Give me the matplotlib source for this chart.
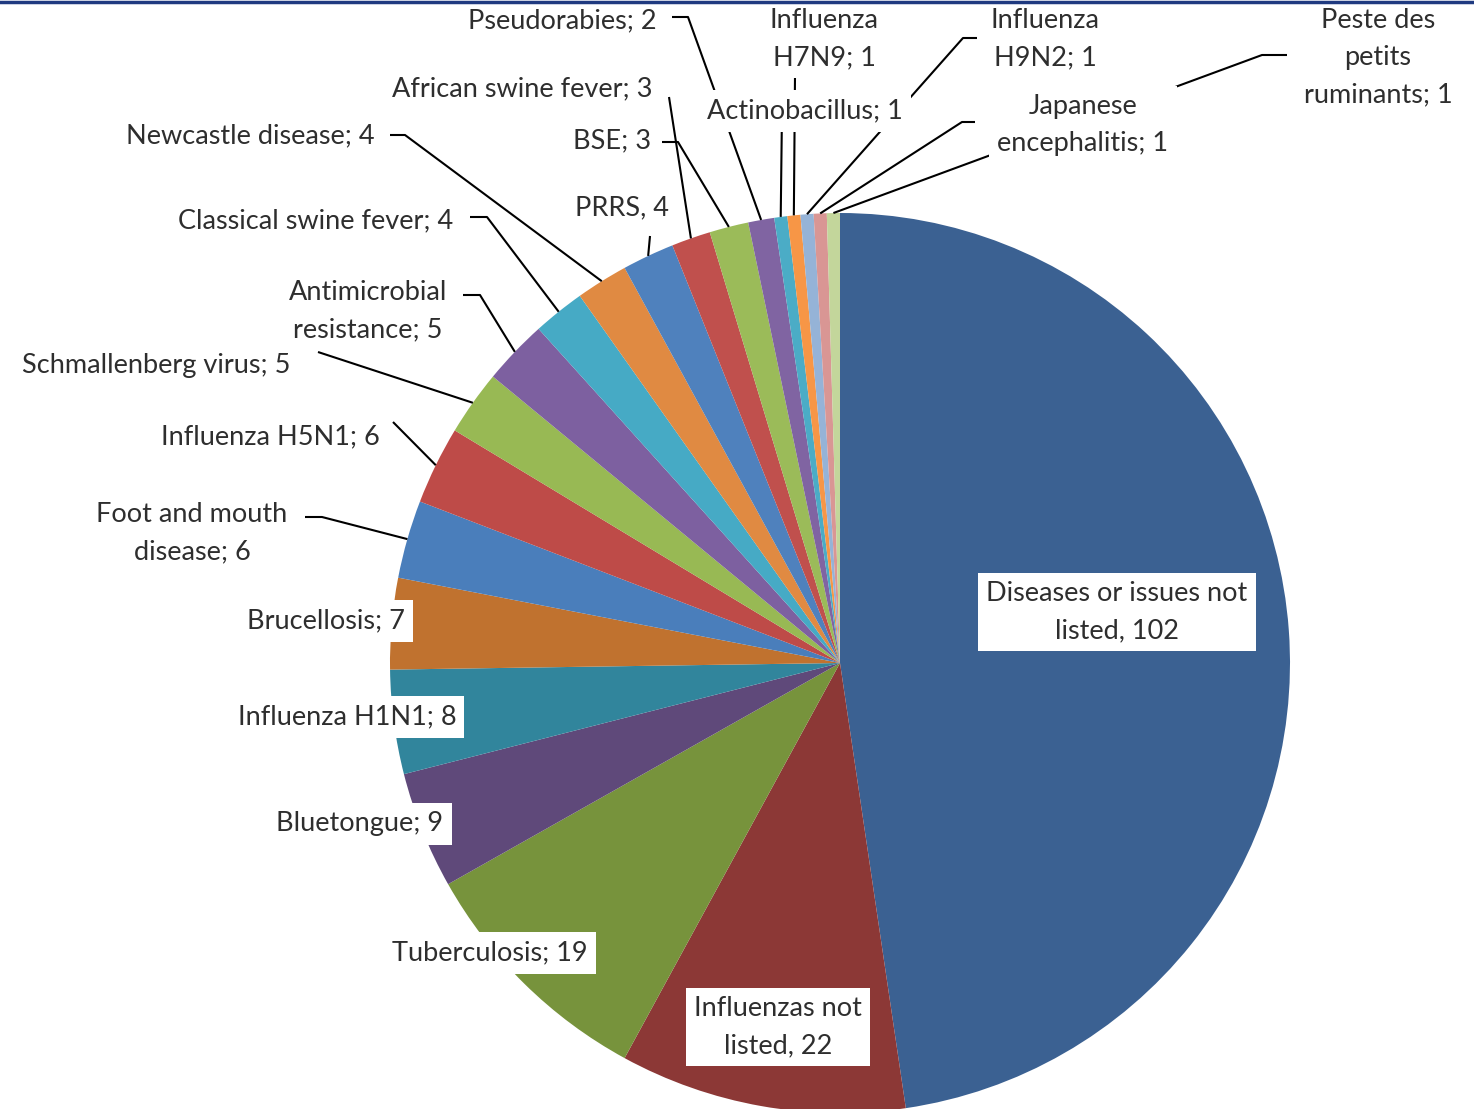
import matplotlib.pyplot as plt
from matplotlib.lines import Line2D
import numpy as np

plt.rcParams['font.family'] = ['Lato', 'DejaVu Sans']

# Reports per disease / issue, in clockwise order from 12 o'clock
names = ['Diseases or issues not\nlisted', 'Influenzas not\nlisted', 'Tuberculosis',
         'Bluetongue', 'Influenza H1N1', 'Brucellosis', 'Foot and mouth\ndisease',
         'Influenza H5N1', 'Schmallenberg virus', 'Antimicrobial\nresistance',
         'Classical swine fever', 'Newcastle disease', 'PRRS', 'African swine fever',
         'BSE', 'Pseudorabies', 'Actinobacillus', 'Influenza\nH7N9', 'Influenza\nH9N2',
         'Japanese\nencephalitis', 'Peste des\npetits\nruminants']
counts = [102, 22, 19, 9, 8, 7, 6, 6, 5, 5, 4, 4, 4, 3, 3, 2, 1, 1, 1, 1, 1]
comma_labels = ['Diseases or issues not\nlisted', 'Influenzas not\nlisted', 'PRRS']

colors = ['#3B6192', '#8C3836', '#77933C', '#5F497A', '#31859C', '#C0722F',
          '#4A7EBB', '#BE4B48', '#98B954', '#7D60A0', '#46AAC5', '#E08A42',
          '#4F81BD', '#C0504D', '#9BBB59', '#8064A2', '#4BACC6', '#F79646',
          '#95B3D7', '#D99694', '#C3D69B']

# label centres, pixel units (y down)
label_pos = [(1117, 612), (778, 1027), (490, 953), (360, 824), (347, 717),
             (326, 621), (192, 533), (270, 437), (156, 366), (368, 311),
             (316, 221), (250, 136), (622, 208), (522, 89), (612, 141),
             (562, 21), (805, 111), (824, 39), (1045, 39), (1083, 125),
             (1378, 58)]

# leader line start points (the wedge end is added from the pie)
leaders = {6: [(305, 517), (322, 517)], 7: [(393, 422)], 8: [(318, 352)],
           9: [(463, 295), (480, 295)], 10: [(470, 217), (487, 217)],
           11: [(390, 135), (405, 135)], 12: [(650, 236)], 13: [(669, 97)],
           14: [(662, 142), (678, 142)], 15: [(672, 17), (688, 17)],
           16: [(782, 111)], 17: [(795, 76)], 18: [(977, 38), (963, 38)],
           19: [(975, 122), (962, 122)], 20: [(1287, 55), (1262, 55)]}

W, H = 1474, 1109
cx, cy, radius = 840, 663, 450

fig = plt.figure(figsize=(W / 100, H / 100), dpi=100)
ax = fig.add_axes([0, 0, 1, 1])

# y axis runs downward, so a counter-clockwise pie in data space reads clockwise
wedges, _ = ax.pie(counts, colors=colors, startangle=-90, counterclock=True,
                   center=(cx, cy), radius=radius,
                   wedgeprops=dict(linewidth=0))
ax.set_xlim(0, W)
ax.set_ylim(H, 0)
ax.set_aspect('equal')
ax.axis('off')

for i, (name, n) in enumerate(zip(names, counts)):
    sep = ',' if name in comma_labels else ';'
    x, y = label_pos[i]
    ax.text(x, y, f'{name}{sep} {n}', fontsize=19.5, color='#2E2E2E',
            ha='center', va='center', linespacing=1.6, zorder=5,
            bbox=dict(boxstyle='square,pad=0.3', fc='white', ec='none'))
    if i in leaders:
        w = wedges[i]
        mid = np.deg2rad((w.theta1 + w.theta2) / 2)
        end = (cx + radius * np.cos(mid), cy + radius * np.sin(mid))
        pts = leaders[i] + [end]
        ax.plot([p[0] for p in pts], [p[1] for p in pts], color='black',
                lw=1.5, zorder=3, solid_capstyle='butt')

# navy rule along the top edge
fig.add_artist(Line2D([0, 1], [1 - 1.5 / H, 1 - 1.5 / H], color='#1F3A80', lw=2.5))

fig.savefig('out.png', dpi=100, facecolor='white')
